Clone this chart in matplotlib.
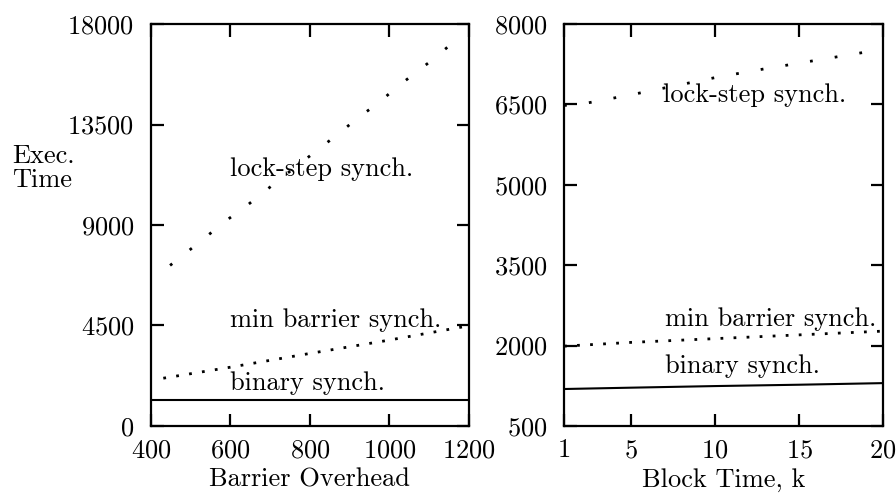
"""
Exec. time vs barrier overhead and block time, three synch schemes.
Output: out.png
"""

import matplotlib.pyplot as plt

plt.rcParams["font.family"] = ["cmr10", "DejaVu Serif"]
plt.rcParams["axes.formatter.use_mathtext"] = True
plt.rcParams["mathtext.fontset"] = "cm"

# ── Data ──────────────────────────────────────────────────────────────────────
# left panel: barrier overhead
ovh_lock = [448, 495, 542, 590, 637, 685, 732, 780, 827, 875, 922, 970, 1017, 1065, 1112, 1157]
lock_ovh = [7190, 7850, 8520, 9210, 9810, 10490, 11160, 11820, 12470, 13130, 13820, 14430,
            15150, 15810, 16450, 17130]
ovh_min = [431, 599, 800, 994, 1185]
min_ovh = [2140, 2630, 3250, 3830, 4440]
ovh_bin = [400, 1200]
bin_ovh = [1170, 1170]

# right panel: block time k
k_lock = [1, 2.45, 5, 7.5, 10, 12.5, 15, 17.5, 20]
lock_k = [6480, 6530, 6680, 6840, 7000, 7140, 7270, 7400, 7530]
k_min = [1, 5, 10, 15, 20]
min_k = [1990, 2060, 2130, 2200, 2270]
k_bin = [1, 5, 10, 15, 20]
bin_k = [1190, 1215, 1245, 1270, 1300]

FS = 19

fig = plt.figure(figsize=(8.96, 4.95), dpi=100)
ax1 = fig.add_axes([0.1685, 0.1394, 0.3549, 0.8121])
ax2 = fig.add_axes([0.6295, 0.1394, 0.3560, 0.8121])

LOCK = (0, (1, 8))
MINB = (0, (1, 3.7))


def dotted(ax, x, y, style):
    ax.plot(x, y, color="black", lw=2.0, linestyle=style, dash_capstyle="butt")


# ── Left panel ────────────────────────────────────────────────────────────────
dotted(ax1, ovh_lock, lock_ovh, LOCK)
dotted(ax1, ovh_min, min_ovh, MINB)
ax1.plot(ovh_bin, bin_ovh, color="black", lw=1.5)
ax1.set_xlim(400, 1200)
ax1.set_ylim(0, 18000)
ax1.set_xticks([400, 600, 800, 1000, 1200])
ax1.set_yticks([0, 4500, 9000, 13500, 18000])
ax1.set_xlabel("Barrier Overhead", fontsize=FS, labelpad=4)
ax1.text(598, 11480, "lock-step synch.", fontsize=FS, va="center", ha="left")
ax1.text(598, 4760, "min barrier synch.", fontsize=FS, va="center", ha="left")
ax1.text(598, 1930, "binary synch.", fontsize=FS, va="center", ha="left")

# ── Right panel ───────────────────────────────────────────────────────────────
dotted(ax2, k_lock, lock_k, LOCK)
dotted(ax2, k_min, min_k, MINB)
ax2.plot(k_bin, bin_k, color="black", lw=1.5)
ax2.set_xlim(1, 20)
ax2.set_ylim(500, 8000)
ax2.set_xticks([1, 5, 10, 15, 20])
ax2.set_yticks([500, 2000, 3500, 5000, 6500, 8000])
ax2.set_xlabel("Block Time, k", fontsize=FS, labelpad=4)
ax2.text(6.9, 6670, "lock-step synch.", fontsize=FS, va="center", ha="left")
ax2.text(7.0, 2500, "min barrier synch.", fontsize=FS, va="center", ha="left")
ax2.text(7.0, 1620, "binary synch.", fontsize=FS, va="center", ha="left")

for ax in (ax1, ax2):
    for s in ax.spines.values():
        s.set_linewidth(1.6)
    ax.tick_params(direction="in", length=9, width=1.6, top=True, right=True,
                   labelsize=FS)
    ax.tick_params(axis="y", pad=12)
    ax.tick_params(axis="x", pad=9)

fig.text(12 / 896, 1 - 168 / 495, "Exec.\nTime", fontsize=FS, ha="left", va="center",
         linespacing=1.0)

fig.savefig("out.png", dpi=100)
